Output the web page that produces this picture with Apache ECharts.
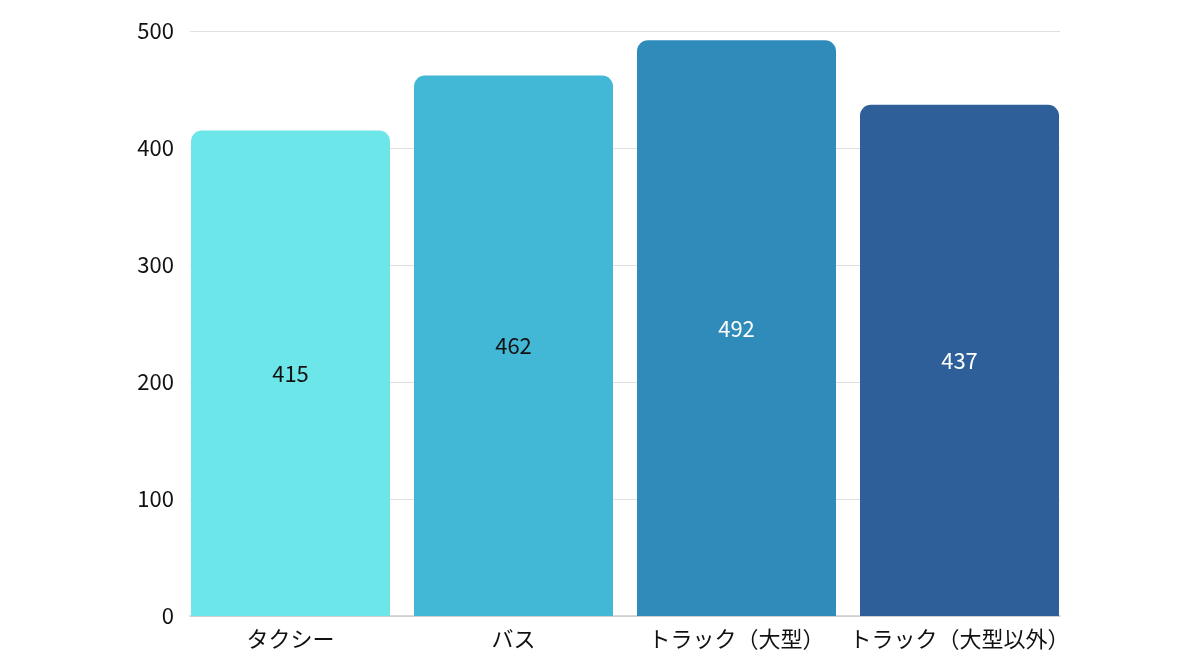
<!DOCTYPE html>
<html><head><meta charset="utf-8">
<script src="https://cdn.jsdelivr.net/npm/echarts@6/dist/echarts.min.js"></script>
<style>html,body{margin:0;padding:0;background:#fff}#c{width:1200px;height:672px}</style>
</head><body><div id="c"></div>
<script>
const categories = ['タクシー', 'バス', 'トラック（大型）', 'トラック（大型以外）'];
const values = [415, 462, 492, 437];
const barColors = ['#6ce6e8', '#42b8d6', '#2e8bba', '#2e5f98'];
const labelColors = ['#111', '#111', '#fff', '#fff'];
const yTicks = [0, 100, 200, 300, 400, 500];

const font = '"Noto Sans CJK JP", "Noto Sans", sans-serif';
const chart = echarts.init(document.getElementById('c'));
chart.setOption({
  animation: false,
  textStyle: { fontFamily: font },
  grid: [
    { left: 190, right: 140, top: 31, bottom: 56 },
    { left: 179, right: 129, top: 31, bottom: 56 }
  ],
  xAxis: [
    { gridIndex: 0, type: 'category', data: categories, axisLabel: { show: false }, axisTick: { show: false },
      axisLine: { show: true, lineStyle: { color: '#cccccc', width: 1.5 } } },
    { gridIndex: 1, type: 'category', data: categories, axisTick: { show: false }, axisLine: { show: false },
      axisLabel: { color: '#111', fontSize: 22, margin: 12, fontFamily: font, interval: 0 } }
  ],
  yAxis: [
    { gridIndex: 0, type: 'value', min: yTicks[0], max: yTicks[yTicks.length - 1], interval: 100,
      axisLabel: { color: '#111', fontSize: 22, margin: 16, fontFamily: font },
      axisLine: { show: false }, axisTick: { show: false },
      splitLine: { lineStyle: { color: '#e0e0e0', width: 1 } } },
    { gridIndex: 1, type: 'value', min: yTicks[0], max: yTicks[yTicks.length - 1], interval: 100, show: false }
  ],
  series: [{
    type: 'bar', xAxisIndex: 1, yAxisIndex: 1,
    barWidth: 199,
    data: values.map((v, i) => ({
      value: v,
      itemStyle: { color: barColors[i], borderRadius: [11, 11, 0, 0] },
      label: { color: labelColors[i] }
    })),
    label: { show: true, position: 'inside', fontSize: 22, fontFamily: font }
  }]
});
</script></body></html>
